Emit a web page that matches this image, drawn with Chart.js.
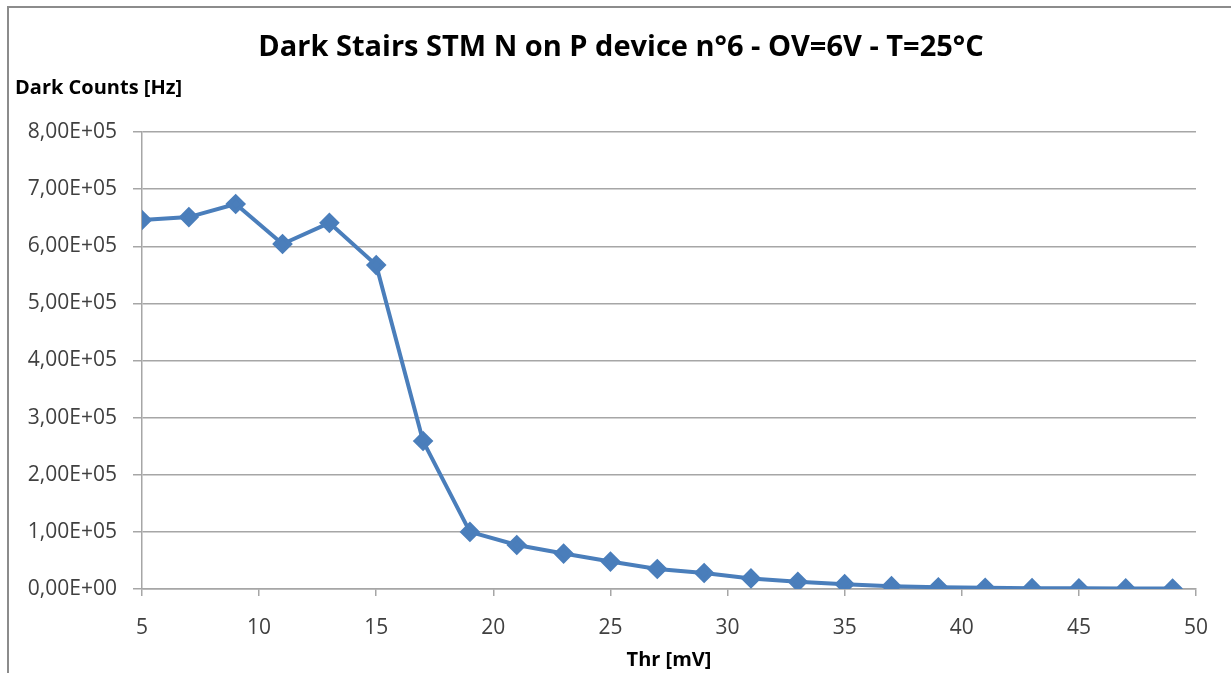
<!DOCTYPE html>
<html>
<head>
<meta charset="utf-8">
<script src="https://cdn.jsdelivr.net/npm/chart.js@4"></script>
<style>
  body { margin: 0; background: #fff; }
  #wrap { position: relative; width: 1231px; height: 673px; }
  #frame { position: absolute; left: 7px; top: 6px; right: -10px; bottom: -10px; border: 2px solid #8c8c8c; border-right: none; border-bottom: none; }
</style>
</head>
<body>
<div id="wrap">
  <canvas id="darkChart" width="1231" height="673"></canvas>
  <div id="frame"></div>
</div>
<script>
const thresholds = [5, 7, 9, 11, 13, 15, 17, 19, 21, 23, 25, 27, 29, 31, 33, 35, 37, 39, 41, 43, 45, 47, 49];
const darkCounts = [646000, 651000, 674000, 604000, 641000, 567000, 259000, 100000, 77000, 62000, 48000, 35000, 28000, 18500, 12500, 8500, 5000, 3000, 2200, 1500, 1200, 1000, 800];
const xTicks = [5, 10, 15, 20, 25, 30, 35, 40, 45, 50];
const yMax = 800000;

const chartTitle = 'Dark Stairs STM N on P device n°6 - OV=6V - T=25°C';
const yTitle = 'Dark Counts [Hz]';

const FONT = '"Open Sans", Lato, sans-serif';

function sciLabel(v) {
    let [m, e] = Number(v).toExponential(2).split('e');
    const sign = e[0] === '-' ? '-' : '+';
    e = e.replace(/[+-]/, '');
    if (e.length < 2) e = '0' + e;
    return m.replace('.', ',') + 'E' + sign + e;
}

// Excel-style titles: main title centred on the whole frame, y title horizontal in the corner
const titlesPlugin = {
    id: 'excelTitles',
    afterDraw(chart) {
        const c = chart.ctx;
        c.save();
        c.fillStyle = '#000';
        c.textBaseline = 'middle';
        c.textAlign = 'center';
        c.font = 'bold 29px ' + FONT;
        c.fillText(chartTitle, 621, 48);
        c.textAlign = 'left';
        c.font = 'bold 20px ' + FONT;
        c.fillText(yTitle, 15, 88);
        c.restore();
    }
};

const ctx = document.getElementById('darkChart').getContext('2d');
const darkChart = new Chart(ctx, {
    type: 'line',
    data: {
        datasets: [{
            label: 'Dark Counts',
            data: thresholds.map((x, i) => ({ x: x, y: darkCounts[i] })),
            borderColor: '#4a7ebb',
            backgroundColor: '#4a7ebb',
            borderWidth: 4,
            pointStyle: 'rectRot',
            pointRadius: 7.5,
            pointHoverRadius: 7.5,
            tension: 0,
            fill: false
        }]
    },
    options: {
        responsive: false,
        animation: false,
        layout: { padding: { left: 0, right: 35, top: 132, bottom: 0 } },
        plugins: {
            legend: { display: false },
            tooltip: { enabled: false },
            title: { display: false }
        },
        scales: {
            x: {
                type: 'linear',
                min: 5,
                max: 50,
                afterBuildTicks(scale) { scale.ticks = xTicks.map(v => ({ value: v })); },
                afterFit(scale) { scale.height = 84; },
                border: { display: true, color: '#a6a6a6', width: 1.5 },
                grid: { display: true, drawOnChartArea: false, color: '#a6a6a6', tickLength: 7, lineWidth: 1.5 },
                ticks: { color: '#404040', font: { family: FONT, size: 21 }, padding: 19, maxRotation: 0, autoSkip: false },
                title: {
                    display: true,
                    text: 'Thr [mV]',
                    color: '#000',
                    font: { family: FONT, size: 20, weight: 'bold', lineHeight: 1.2 },
                    padding: { top: 0, bottom: 1 }
                }
            },
            y: {
                min: 0,
                max: yMax,
                afterFit(scale) { scale.width = 142; },
                border: { display: true, color: '#a6a6a6', width: 1.5 },
                grid: { color: '#a6a6a6', lineWidth: 1.5, tickLength: 9 },
                ticks: {
                    stepSize: 100000,
                    color: '#404040',
                    font: { family: FONT, size: 21 },
                    padding: 16,
                    callback: v => sciLabel(v)
                }
            }
        }
    },
    plugins: [titlesPlugin]
});
</script>
</body>
</html>
